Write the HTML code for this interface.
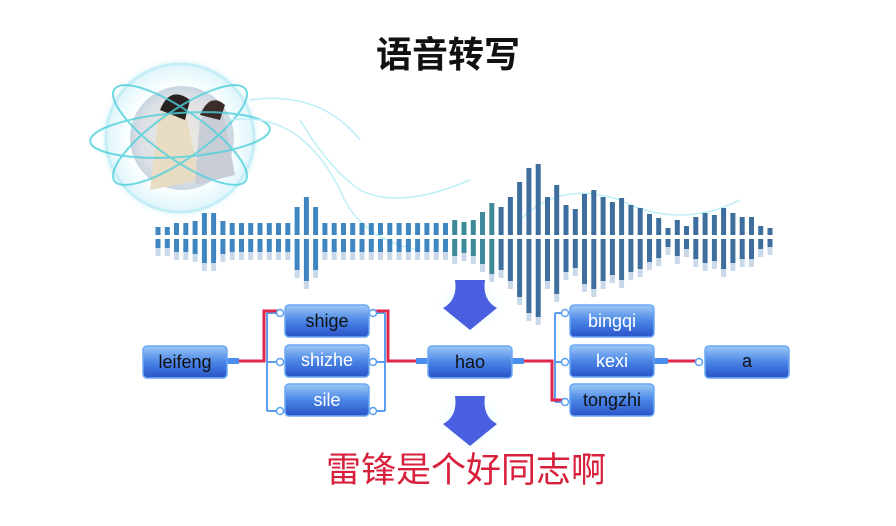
<!DOCTYPE html>
<html><head><meta charset="utf-8"><style>
html,body{margin:0;padding:0;background:#fff;width:896px;height:526px;overflow:hidden}
.t{font-family:"Liberation Sans","Noto Sans CJK SC",sans-serif}
</style></head><body>
<svg id="s" width="896" height="526" xmlns="http://www.w3.org/2000/svg">
<defs>
<linearGradient id="bx" x1="0" y1="0" x2="0" y2="1">
<stop offset="0" stop-color="#9cc8f6"/><stop offset="0.5" stop-color="#4a86e6"/><stop offset="1" stop-color="#2a52c8"/></linearGradient>
<radialGradient id="sph" cx="0.5" cy="0.5" r="0.5">
<stop offset="0.6" stop-color="#ffffff"/><stop offset="0.9" stop-color="#dff6fb"/><stop offset="1" stop-color="#ffffff" stop-opacity="0"/></radialGradient>
<radialGradient id="ph" cx="0.5" cy="0.5" r="0.5">
<stop offset="0" stop-color="#eeeae2"/><stop offset="0.8" stop-color="#dde0e4"/><stop offset="1" stop-color="#c8d6e2"/></radialGradient>
<radialGradient id="glow" cx="0.5" cy="0.5" r="0.5">
<stop offset="0" stop-color="#bff2fb"/><stop offset="1" stop-color="#ffffff" stop-opacity="0"/></radialGradient>
</defs>
<text x="448" y="67" text-anchor="middle" class="t" font-size="36" font-weight="bold" fill="#111">语音转写</text>
<circle cx="180" cy="138" r="82" fill="url(#sph)"/>
<circle cx="180" cy="138" r="74" fill="none" stroke="#c6eef7" stroke-width="3"/>
<circle cx="182" cy="138" r="52" fill="url(#ph)"/>
<path d="M150 190 L158 120 Q170 95 185 110 L200 180 Z" fill="#e8dcc4"/>
<path d="M160 110 Q170 85 190 100 L185 120 Z" fill="#2a2220"/>
<path d="M195 185 L200 120 Q215 100 225 120 L235 175 Z" fill="#c8cdd6"/>
<path d="M200 115 Q210 92 225 105 L220 120 Z" fill="#3a2c28"/>
<g fill="none" stroke="#4fd0dc" stroke-width="2" opacity="0.8">
<ellipse cx="180" cy="135" rx="90" ry="22" transform="rotate(-4 180 135)"/>
<ellipse cx="180" cy="135" rx="80" ry="24" transform="rotate(35 180 135)"/>
<ellipse cx="180" cy="135" rx="80" ry="24" transform="rotate(-35 180 135)"/>
</g>
<g fill="none" stroke="#bdeff6" stroke-width="1.5">
<path d="M230 120 Q300 110 340 190 Q360 240 420 250"/>
<path d="M300 120 Q330 170 360 190 Q400 210 470 180"/>
<path d="M250 100 Q320 90 360 140"/>
<path d="M520 220 Q560 180 620 200 Q680 230 740 200"/>
</g>
<g id="wave"></g>
<ellipse cx="470" cy="305" rx="38" ry="30" fill="url(#glow)"/>
<path d="M455 280 L485 280 Q482 300 497 308 L470 330 L443 308 Q458 300 455 280Z" fill="#4a5ee0"/>
<ellipse cx="470" cy="420" rx="38" ry="30" fill="url(#glow)"/>
<path d="M455 396 L485 396 Q482 416 497 424 L470 446 L443 424 Q458 416 455 396Z" fill="#4a5ee0"/>
<g fill="none" stroke="#5a9ef0" stroke-width="2">
<path d="M267 313 V411 M278 313 H267 M278 362 H267 M278 411 H267"/>
<path d="M385 313 V411 M374 313 H385 M374 362 H385 M374 411 H385"/>
<path d="M555 313 V402 M565 313 H555 M565 362 H555 M565 402 H555"/>
</g>
<g fill="none" stroke="#e0264a" stroke-width="3">
<path d="M227 361 H264 V311 H277"/>
<path d="M374 311 H388 V361 H428"/>
<path d="M512 361 H552 V400 H565"/>
<path d="M654 361 H700"/>
</g>
<g fill="#fff" stroke="#5a9ef0" stroke-width="1.5">
<circle cx="280" cy="313" r="3.5"/><circle cx="280" cy="362" r="3.5"/><circle cx="280" cy="411" r="3.5"/>
<circle cx="373" cy="313" r="3.5"/><circle cx="373" cy="362" r="3.5"/><circle cx="373" cy="411" r="3.5"/>
<circle cx="565" cy="313" r="3.5"/><circle cx="565" cy="362" r="3.5"/><circle cx="565" cy="402" r="3.5"/>
<circle cx="699" cy="362" r="3.5"/>
</g>
<g fill="#4a8ff0"><rect x="227" y="358" width="12" height="6"/><rect x="416" y="358" width="12" height="6"/><rect x="512" y="358" width="12" height="6"/><rect x="654" y="358" width="14" height="6"/></g>
<g stroke="#6aa8f4" stroke-width="1.5" fill="url(#bx)">
<rect x="143" y="346" width="84" height="32" rx="4"/>
<rect x="285" y="305" width="84" height="32" rx="4"/>
<rect x="285" y="345" width="84" height="32" rx="4"/>
<rect x="285" y="384" width="84" height="32" rx="4"/>
<rect x="428" y="346" width="84" height="32" rx="4"/>
<rect x="570" y="305" width="84" height="32" rx="4"/>
<rect x="570" y="345" width="84" height="32" rx="4"/>
<rect x="570" y="384" width="84" height="32" rx="4"/>
<rect x="705" y="346" width="84" height="32" rx="4"/>
</g>
<g class="t" font-size="18" text-anchor="middle">
<text x="185" y="368" fill="#111">leifeng</text>
<text x="327" y="327" fill="#111">shige</text>
<text x="327" y="366" fill="#fff">shizhe</text>
<text x="327" y="406" fill="#fff">sile</text>
<text x="470" y="368" fill="#111">hao</text>
<text x="612" y="327" fill="#fff">bingqi</text>
<text x="612" y="367" fill="#fff">kexi</text>
<text x="612" y="406" fill="#111">tongzhi</text>
<text x="747" y="367" fill="#111">a</text>
</g>
<text x="466" y="482" text-anchor="middle" class="t" font-size="35" fill="#d8203c">雷锋是个好同志啊</text>
</svg>
<script>
var tops=[8,8,12,12,14,22,22,14,12,12,12,12,12,12,12,28,38,28,12,12,12,12,12,12,12,12,12,12,12,12,12,12,15,13,15,23,32,28,38,53,67,71,38,50,30,26,41,45,38,33,37,30,27,21,17,7,15,9,18,22,20,27,22,18,18,9,7];
var n=tops.length,x0=158,p=(770-158)/(n-1),h='';
for(var i=0;i<n;i++){var x=x0+i*p,t=tops[i];
var c=(i>=32&&i<=36)?'#3f8a9a':(i<32?'#3f86c0':'#3d6e9e');
h+='<rect x="'+(x-2.5).toFixed(1)+'" y="'+(235-t)+'" width="5" height="'+t+'" fill="'+c+'"/>';
var b=Math.max(8,t*1.1);
h+='<rect x="'+(x-2.5).toFixed(1)+'" y="239" width="5" height="'+b.toFixed(0)+'" fill="'+c+'"/>';
h+='<rect x="'+(x-2.5).toFixed(1)+'" y="'+(239+b).toFixed(0)+'" width="5" height="8" fill="#c9d9ea"/>';}
document.getElementById('wave').innerHTML=h;
</script>
</body></html>
